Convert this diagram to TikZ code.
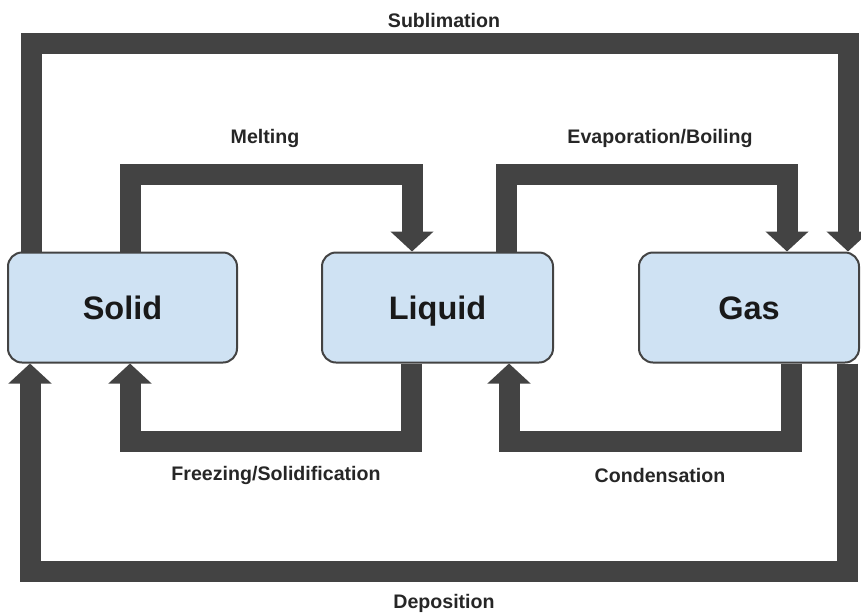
\documentclass[tikz,border=0pt]{standalone}
\usepackage{fontspec}
\setmainfont{Liberation Sans}
\usetikzlibrary{arrows.meta}
\definecolor{flowgray}{HTML}{434343}
\definecolor{statefill}{HTML}{CFE2F3}

\begin{document}
\begin{tikzpicture}[
    x=1pt, y=-1pt,
    state/.style = {
      shape=rectangle,
      rounded corners=14pt,
      draw=flowgray,
      line width=2pt,
      fill=statefill,
      minimum height=110pt,
      text height=23pt,
      text depth=0pt,
      text=black!90,
      font=\fontsize{32.5}{38}\selectfont\bfseries
    },
    flow/.style = {
      draw=flowgray,
      line width=21pt,
      -{Triangle[width=42pt,length=20pt]}
    },
    phase/.style = {
      text=black!85,
      font=\fontsize{19.6}{23}\selectfont\bfseries
    }
  ]
    \useasboundingbox (0,0) rectangle (861,614);

    % States
    \node[state, minimum width=229pt] (solid) at (122.5,307.5) {Solid};
    \node[state, minimum width=231pt] (liquid) at (437.5,307.5) {Liquid};
    \node[state, minimum width=220pt] (gas) at (749,307.5) {Gas};

    % Upper transitions
    \draw[flow] (solid.north -| 31,0) |- (848,43) -- (gas.north -| 848,0);
    \draw[flow] (solid.north -| 130,0) |- (412,174) -- (liquid.north -| 412,0);
    \draw[flow] (liquid.north -| 506,0) |- (787,174) -- (gas.north -| 787,0);

    % Lower transitions
    \draw[flow] (liquid.south -| 411,0) |- (130,441) -- (solid.south -| 130,0);
    \draw[flow] (gas.south -| 791,0) |- (509,441) -- (liquid.south -| 509,0);
    \draw[flow] (gas.south -| 847,0) |- (30,571) -- (solid.south -| 30,0);

    % Labels
    \node[phase] (sublim) at (444,20) {Sublimation};
    \node[phase] (melt) at (265,138) {Melting};
    \node[phase] (evap) at (660,138) {Evaporation/Boiling};
    \node[phase] (freeze) at (276,475) {Freezing/Solidification};
    \node[phase] (cond) at (660,475) {Condensation};
    \node[phase] (depos) at (444,603) {Deposition};
\end{tikzpicture}
\end{document}
